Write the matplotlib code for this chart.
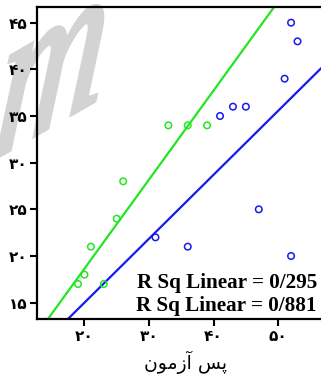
import numpy as np
import matplotlib
matplotlib.use('Agg')
import matplotlib.pyplot as plt
from matplotlib.textpath import TextPath
from matplotlib.patches import PathPatch
from matplotlib.font_manager import FontProperties
from matplotlib.transforms import Affine2D, IdentityTransform

# two groups: post-test score (x) against the second score (y)
grp1_x = [31, 36, 41, 43, 45, 47, 51, 52, 52, 53]
grp1_y = [22, 21, 35, 36, 36, 25, 39, 45, 20, 43]
grp2_x = [19, 20, 21, 23, 25, 26, 33, 36, 39]
grp2_y = [17, 18, 21, 17, 24, 28, 34, 34, 34]

xticks = [20, 30, 40, 50]
yticks = [15, 20, 25, 30, 35, 40, 45]

# persian digits for the tick labels
fa_digits = str.maketrans('0123456789', '\u06f0\u06f1\u06f2\u06f3\u06f4\u06f5\u06f6\u06f7\u06f8\u06f9')
def fa(n):
    return str(n).translate(fa_digits)

# "پس آزمون" written out in shaped glyphs, left to right
xlabel = '\ufee5\ufeee\ufee3\ufeaf\ufe81 \ufeb2\ufb58'

W, H = 321, 376
fig = plt.figure(figsize=(W/100, H/100), dpi=100)
fig.patch.set_facecolor('white')

# faint slanted watermark letter in the top-left corner (pixel coords)
wm = TextPath((0, 0), 'm', size=175,
              prop=FontProperties(family='Liberation Serif', style='italic'))
wm_tr = Affine2D().skew_deg(36, 0).rotate_deg(30).translate(-8, H-160)
fig.patches.append(PathPatch(wm, transform=wm_tr + IdentityTransform(),
                             facecolor='#d3d3d3', edgecolor='#d3d3d3', lw=3, zorder=-5))

ax = fig.add_axes([37/W, (H-319)/H, (334-37)/W, (319-7)/H])
ax.patch.set_alpha(0)
xmin, xmax = 12.65, 58.65
ymin, ymax = 13.25, 46.68
ax.set_xlim(xmin, xmax)
ax.set_ylim(ymin, ymax)

green = '#22e622'
blue = '#1818f0'

ax.scatter(grp2_x, grp2_y, s=22, facecolors='none', edgecolors=green, linewidths=1.1, zorder=3)
ax.scatter(grp1_x, grp1_y, s=22, facecolors='none', edgecolors=blue, linewidths=1.1, zorder=3)

labels = []
xx = np.array([xmin, xmax])
for gx, gy, c in [(grp1_x, grp1_y, blue), (grp2_x, grp2_y, green)]:
    b, a = np.polyfit(gx, gy, 1)
    ax.plot(xx, a + b*xx, color=c, lw=1.6, zorder=2)
    r2 = np.corrcoef(gx, gy)[0, 1]**2
    labels.append('R Sq Linear = ' + ('%.3f' % r2).replace('.', '/'))

fig.text(317/W, (H-288)/H, labels[0], ha='right', va='baseline', fontsize=15.2,
         family='Liberation Serif', weight='bold')
fig.text(317/W, (H-311)/H, labels[1], ha='right', va='baseline', fontsize=15.2,
         family='Liberation Serif', weight='bold')

ax.set_xticks(xticks)
ax.set_xticklabels([fa(t) for t in xticks])
ax.set_yticks(yticks)
ax.set_yticklabels([fa(t) for t in yticks])
for lab in ax.get_xticklabels() + ax.get_yticklabels():
    lab.set_fontsize(11)
    lab.set_fontweight('bold')
    lab.set_family('DejaVu Sans')
ax.tick_params(direction='out', length=5, width=1.5, pad=2)

for s in ['left', 'bottom', 'top']:
    ax.spines[s].set_linewidth(1.6)
ax.spines['right'].set_visible(False)

ax.set_xlabel(xlabel, fontsize=13.5, family='DejaVu Sans', labelpad=5)

fig.savefig('out.png', dpi=100)
